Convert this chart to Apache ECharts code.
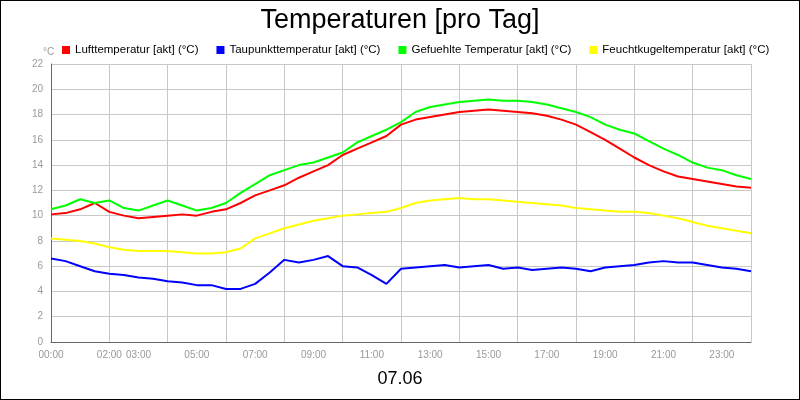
<!DOCTYPE html>
<html><head><meta charset="utf-8">
<script src="https://cdn.jsdelivr.net/npm/echarts@6/dist/echarts.min.js"></script>
<style>html,body{margin:0;padding:0;}#main{width:798px;height:398px;border:1px solid #000;}</style>
</head><body><div id="main"></div>
<script>
// Zeit in Stunden, alle 30 Minuten
var hours = [];
for (var i = 0; i <= 48; i++) hours.push(i / 2);

var luft = [10.1,10.2,10.5,11.0,10.3,10.0,9.8,9.9,10.0,10.1,10.0,10.3,10.5,11.0,11.6,12.0,12.4,13.0,13.5,14.0,14.8,15.3,15.8,16.3,17.2,17.6,17.8,18.0,18.2,18.3,18.4,18.3,18.2,18.1,17.9,17.6,17.2,16.6,16.0,15.3,14.6,14.0,13.5,13.1,12.9,12.7,12.5,12.3,12.2];
var taupunkt = [6.6,6.4,6.0,5.6,5.4,5.3,5.1,5.0,4.8,4.7,4.5,4.5,4.2,4.2,4.6,5.5,6.5,6.3,6.5,6.8,6.0,5.9,5.3,4.6,5.8,5.9,6.0,6.1,5.9,6.0,6.1,5.8,5.9,5.7,5.8,5.9,5.8,5.6,5.9,6.0,6.1,6.3,6.4,6.3,6.3,6.1,5.9,5.8,5.6];
var gefuehlt = [10.5,10.8,11.3,11.0,11.2,10.6,10.4,10.8,11.2,10.8,10.4,10.6,11.0,11.8,12.5,13.2,13.6,14.0,14.2,14.6,15.0,15.8,16.3,16.8,17.4,18.2,18.6,18.8,19.0,19.1,19.2,19.1,19.1,19.0,18.8,18.5,18.2,17.8,17.2,16.8,16.5,15.9,15.3,14.8,14.2,13.8,13.6,13.2,12.9];
var feucht = [8.2,8.1,8.0,7.8,7.5,7.3,7.2,7.2,7.2,7.1,7.0,7.0,7.1,7.4,8.2,8.6,9.0,9.3,9.6,9.8,10.0,10.1,10.2,10.3,10.6,11.0,11.2,11.3,11.4,11.3,11.3,11.2,11.1,11.0,10.9,10.8,10.6,10.5,10.4,10.3,10.3,10.2,10.0,9.8,9.5,9.2,9.0,8.8,8.6];
var shownHours = [0,2,3,5,7,9,11,13,15,17,19,21,23];

function pairs(v){ return hours.map(function(h, i){ return [h, v[i]]; }); }
function pad(h){ return (h < 10 ? '0' : '') + h + ':00'; }

var chart = echarts.init(document.getElementById('main'));
var font = 'Arial, "Liberation Sans", sans-serif';
chart.setOption({
    animation: false,
    backgroundColor: '#fff',
    textStyle: { fontFamily: font },
    title: [
        { text: 'Temperaturen [pro Tag]', left: 'center', top: 1, textStyle: { fontSize: 27, fontWeight: 'normal', color: '#000', fontFamily: font } },
        { text: '07.06', left: 'center', top: 364, textStyle: { fontSize: 18, fontWeight: 'normal', color: '#000', fontFamily: font } },
        { text: '°C', left: 37, top: 41, textStyle: { fontSize: 10, fontWeight: 'normal', color: '#999', fontFamily: font } }
    ],
    legend: {
        top: 38, left: 56, itemWidth: 8, itemHeight: 8, itemGap: 18, icon: 'rect',
        textStyle: { fontSize: 11.5, color: '#000' },
        data: ['Lufttemperatur [akt] (°C)', 'Taupunkttemperatur [akt] (°C)', 'Gefuehlte Temperatur [akt] (°C)', 'Feuchtkugeltemperatur [akt] (°C)']
    },
    grid: { left: 50, right: 48, top: 63, bottom: 57 },
    xAxis: [{
        type: 'value', min: 0, max: 24, interval: 2,
        axisLine: { lineStyle: { color: '#666' } }, axisTick: { show: false }, axisLabel: { show: false },
        splitLine: { lineStyle: { color: '#c8c8c8' } }
    }, {
        type: 'value', min: 0, max: 24, interval: 1, position: 'bottom',
        axisLine: { show: false }, axisTick: { show: false }, splitLine: { show: false },
        axisLabel: { color: '#999', fontSize: 10, showMaxLabel: false,
            formatter: function(v){ return shownHours.indexOf(v) >= 0 ? pad(v) : ''; } }
    }],
    yAxis: {
        type: 'value', min: 0, max: 22, interval: 2,
        axisLine: { show: true, lineStyle: { color: '#666' } }, axisTick: { show: false },
        axisLabel: { color: '#999', fontSize: 10 },
        splitLine: { lineStyle: { color: '#c8c8c8' } }
    },
    series: [
        { name: 'Lufttemperatur [akt] (°C)', type: 'line', data: pairs(luft), color: '#ff0000', showSymbol: false, lineStyle: { width: 2 } },
        { name: 'Taupunkttemperatur [akt] (°C)', type: 'line', data: pairs(taupunkt), color: '#0000ff', showSymbol: false, lineStyle: { width: 2 } },
        { name: 'Gefuehlte Temperatur [akt] (°C)', type: 'line', data: pairs(gefuehlt), color: '#00ff00', showSymbol: false, lineStyle: { width: 2 } },
        { name: 'Feuchtkugeltemperatur [akt] (°C)', type: 'line', data: pairs(feucht), color: '#ffff00', showSymbol: false, lineStyle: { width: 2 } }
    ]
});
</script></body></html>
